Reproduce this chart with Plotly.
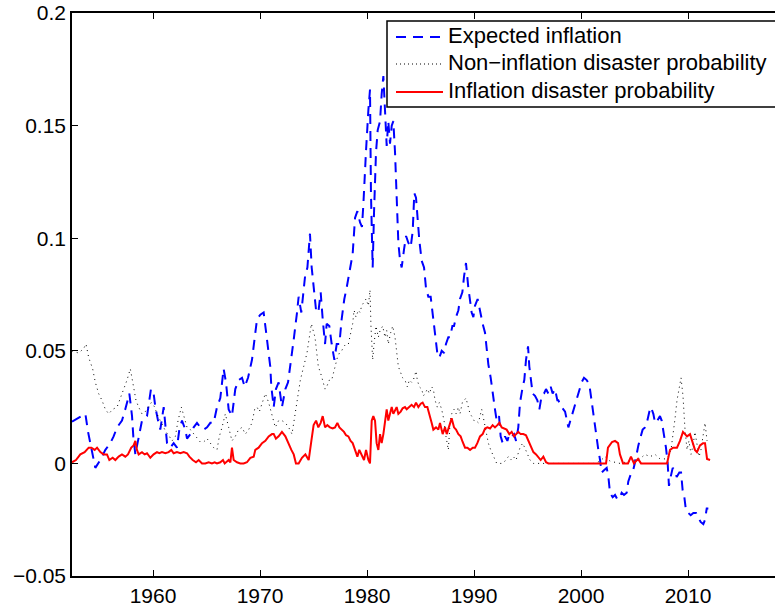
import plotly.graph_objects as go

# ---------------- data ----------------
exp_year = [1952.43, 1953.68, 1953.93, 1954.61, 1955.08, 1955.55, 1956.01, 1956.32, 1956.64, 1957.10,
            1957.41, 1957.79, 1958.04, 1958.16, 1958.35, 1958.66, 1958.97, 1959.44, 1959.81, 1960.06,
            1960.22, 1960.47, 1960.68, 1961.00, 1961.15, 1961.31, 1961.62, 1961.93, 1962.24, 1962.46,
            1962.71, 1963.02, 1963.18, 1963.49, 1963.80, 1964.11, 1964.42, 1964.73, 1965.05, 1965.36,
            1965.67, 1965.98, 1966.29, 1966.60, 1966.82, 1967.07, 1967.38, 1967.69, 1968.00, 1968.32,
            1968.57, 1968.88, 1969.25, 1969.50, 1969.72, 1970.03, 1970.34, 1970.50, 1970.75, 1970.96,
            1971.06, 1971.28, 1971.49, 1971.74, 1972.05, 1972.37, 1972.62, 1972.83, 1973.15, 1973.46,
            1973.61, 1973.86, 1974.21, 1974.43, 1974.67, 1974.83, 1975.05, 1975.24, 1975.45, 1975.67,
            1975.86, 1976.08, 1976.23, 1976.48, 1976.70, 1976.95, 1977.17, 1977.42, 1977.63, 1977.88,
            1978.10, 1978.41, 1978.66, 1978.88, 1979.10, 1979.35, 1979.53, 1979.66, 1979.81, 1979.91,
            1980.13, 1980.28, 1980.37, 1980.53, 1980.66, 1980.84, 1981.00, 1981.22, 1981.37, 1981.53,
            1981.68, 1981.84, 1981.99, 1982.15, 1982.31, 1982.46, 1982.62, 1982.77, 1982.93, 1983.09,
            1983.24, 1983.46, 1983.65, 1983.86, 1984.08, 1984.27, 1984.42, 1984.58, 1984.70, 1984.89,
            1985.11, 1985.33, 1985.51, 1985.73, 1985.95, 1986.20, 1986.36, 1986.57, 1986.76, 1986.98,
            1987.20, 1987.38, 1987.60, 1987.76, 1987.98, 1988.13, 1988.32, 1988.54, 1988.69, 1988.91,
            1989.07, 1989.25, 1989.47, 1989.63, 1989.78, 1989.94, 1990.09, 1990.34, 1990.56, 1990.81,
            1991.03, 1991.18, 1991.34, 1991.56, 1991.74, 1991.96, 1992.12, 1992.34, 1992.49, 1992.68,
            1992.90, 1993.12, 1993.30, 1993.52, 1993.74, 1993.93, 1994.14, 1994.30, 1994.55, 1994.70,
            1994.86, 1995.05, 1995.17, 1995.30, 1995.48, 1995.70, 1995.92, 1996.11, 1996.32, 1996.54,
            1996.73, 1996.95, 1997.17, 1997.35, 1997.57, 1997.79, 1997.88, 1998.19, 1998.51, 1998.82,
            1999.13, 1999.44, 1999.75, 2000.06, 2000.28, 2000.53, 2000.78, 2001.00, 2001.22, 2001.40,
            2001.62, 2001.78, 2001.93, 2002.15, 2002.40, 2002.56, 2002.71, 2002.96, 2003.18, 2003.40,
            2003.65, 2003.80, 2004.02, 2004.27, 2004.42, 2004.64, 2004.83, 2005.05, 2005.20, 2005.36,
            2005.58, 2005.76, 2005.98, 2006.20, 2006.39, 2006.54, 2006.76, 2006.92, 2007.13, 2007.38,
            2007.54, 2007.76, 2007.94, 2008.10, 2008.22, 2008.38, 2008.57, 2008.79, 2008.94, 2009.19,
            2009.35, 2009.50, 2009.66, 2009.81, 2010.03, 2010.25, 2010.50, 2010.75, 2010.97, 2011.18,
            2011.43, 2011.59, 2011.75, 2011.90]
exp_infl = [0.0185, 0.022, 0.014, -0.002, 0.0015, 0.006, 0.009, 0.012, 0.016, 0.019,
            0.024, 0.031, 0.021, 0.012, 0.004, 0.012, 0.019, 0.021, 0.033, 0.031,
            0.025, 0.019, 0.015, 0.025, 0.016, 0.009, 0.007, 0.009, 0.007, 0.015,
            0.019, 0.015, 0.011, 0.013, 0.016, 0.018, 0.016, 0.015, 0.016, 0.018,
            0.018, 0.025, 0.029, 0.042, 0.036, 0.024, 0.021, 0.033, 0.037, 0.038,
            0.034, 0.038, 0.046, 0.056, 0.064, 0.066, 0.067, 0.061, 0.052, 0.043,
            0.034, 0.025, 0.033, 0.036, 0.025, 0.033, 0.036, 0.043, 0.055, 0.067,
            0.074, 0.067, 0.083, 0.087, 0.102, 0.087, 0.078, 0.068, 0.067, 0.076,
            0.064, 0.053, 0.062, 0.061, 0.053, 0.046, 0.053, 0.053, 0.064, 0.073,
            0.078, 0.086, 0.093, 0.109, 0.112, 0.107, 0.105, 0.115, 0.135, 0.139,
            0.157, 0.166, 0.120, 0.087, 0.112, 0.138, 0.148, 0.152, 0.164, 0.172,
            0.157, 0.141, 0.152, 0.142, 0.150, 0.152, 0.138, 0.120, 0.098, 0.090,
            0.087, 0.095, 0.101, 0.098, 0.096, 0.103, 0.120, 0.118, 0.109, 0.099,
            0.090, 0.087, 0.078, 0.074, 0.074, 0.064, 0.058, 0.049, 0.047, 0.050,
            0.049, 0.053, 0.056, 0.056, 0.061, 0.061, 0.065, 0.068, 0.073, 0.076,
            0.083, 0.089, 0.078, 0.071, 0.067, 0.065, 0.070, 0.073, 0.067, 0.062,
            0.058, 0.052, 0.044, 0.038, 0.031, 0.024, 0.019, 0.021, 0.012, 0.009,
            0.012, 0.010, 0.013, 0.012, 0.013, 0.010, 0.016, 0.027, 0.034, 0.037,
            0.046, 0.052, 0.043, 0.037, 0.031, 0.030, 0.028, 0.024, 0.030, 0.031,
            0.033, 0.031, 0.034, 0.031, 0.033, 0.028, 0.028, 0.025, 0.023, 0.016,
            0.021, 0.025, 0.031, 0.036, 0.038, 0.037, 0.035, 0.027, 0.018, 0.012,
            0.006, 0.0015, -0.004, -0.003, -0.002, -0.006, -0.013, -0.015, -0.014, -0.016,
            -0.015, -0.013, -0.014, -0.013, -0.008, -0.005, -0.004, 0.0005, 0.0045, 0.008,
            0.012, 0.015, 0.016, 0.019, 0.023, 0.025, 0.022, 0.018, 0.019, 0.021,
            0.019, 0.013, 0.007, 0.0, -0.010, -0.006, -0.002, -0.003, -0.006, -0.004,
            -0.004, -0.012, -0.015, -0.021, -0.022, -0.023, -0.022, -0.022, -0.024, -0.026,
            -0.027, -0.025, -0.020, -0.020]

non_year = [1952.43, 1953.05, 1953.52, 1953.74, 1953.99, 1954.36, 1954.61, 1954.92, 1955.23, 1955.55,
            1955.86, 1956.23, 1956.64, 1957.04, 1957.26, 1957.57, 1957.88, 1958.04, 1958.19, 1958.41,
            1958.66, 1958.97, 1959.28, 1959.53, 1959.84, 1960.16, 1960.37, 1960.68, 1961.00, 1961.21,
            1961.53, 1961.78, 1962.09, 1962.34, 1962.65, 1962.96, 1963.18, 1963.49, 1963.80, 1964.11,
            1964.42, 1964.73, 1965.05, 1965.36, 1965.67, 1965.98, 1966.20, 1966.45, 1966.76, 1967.07,
            1967.38, 1967.69, 1968.00, 1968.32, 1968.63, 1968.94, 1969.25, 1969.50, 1969.72, 1969.94,
            1970.19, 1970.50, 1970.81, 1971.12, 1971.43, 1971.74, 1972.05, 1972.37, 1972.68, 1972.99,
            1973.24, 1973.46, 1973.77, 1974.08, 1974.39, 1974.61, 1974.80, 1975.14, 1975.30, 1975.45,
            1975.67, 1975.86, 1976.08, 1976.23, 1976.48, 1976.70, 1976.86, 1977.01, 1977.23, 1977.42,
            1977.63, 1977.85, 1978.04, 1978.26, 1978.41, 1978.66, 1978.79, 1978.97, 1979.19, 1979.35,
            1979.50, 1979.66, 1979.91, 1980.13, 1980.28, 1980.37, 1980.53, 1980.66, 1980.84, 1981.06,
            1981.22, 1981.47, 1981.68, 1981.84, 1981.99, 1982.21, 1982.40, 1982.62, 1982.77, 1982.93,
            1983.09, 1983.33, 1983.55, 1983.77, 1983.96, 1984.17, 1984.33, 1984.58, 1984.70, 1984.89,
            1985.11, 1985.27, 1985.42, 1985.64, 1985.83, 1986.04, 1986.20, 1986.36, 1986.57, 1986.76,
            1986.98, 1987.20, 1987.38, 1987.60, 1987.76, 1987.91, 1988.13, 1988.32, 1988.54, 1988.69,
            1988.91, 1989.07, 1989.25, 1989.47, 1989.63, 1989.78, 1990.00, 1990.19, 1990.41, 1990.56,
            1990.72, 1990.93, 1991.12, 1991.34, 1991.56, 1991.74, 1991.96, 1992.12, 1992.37, 1992.59,
            1992.80, 1992.99, 1993.21, 1993.43, 1993.68, 1993.93, 1994.14, 1994.30, 1994.55, 1994.77,
            1994.92, 1995.23, 1995.55, 1998.04, 2001.31, 2001.78, 2002.24, 2002.71, 2003.64, 2004.58,
            2005.51, 2005.98, 2006.45, 2006.92, 2007.38, 2007.85, 2008.13, 2008.41, 2008.60, 2008.79,
            2008.97, 2009.16, 2009.35, 2009.53, 2009.72, 2009.91, 2010.09, 2010.28, 2010.47, 2010.65,
            2010.84, 2011.03, 2011.21, 2011.40, 2011.59, 2011.78]
non_infl = [0.050, 0.049, 0.051, 0.053, 0.047, 0.042, 0.036, 0.031, 0.028, 0.024,
            0.022, 0.024, 0.025, 0.030, 0.033, 0.037, 0.042, 0.038, 0.033, 0.028,
            0.025, 0.022, 0.023, 0.025, 0.027, 0.025, 0.022, 0.019, 0.016, 0.014,
            0.012, 0.010, 0.012, 0.019, 0.025, 0.019, 0.016, 0.015, 0.013, 0.011,
            0.0095, 0.0095, 0.011, 0.009, 0.007, 0.006, 0.012, 0.016, 0.022, 0.016,
            0.010, 0.012, 0.015, 0.016, 0.013, 0.015, 0.018, 0.024, 0.025, 0.023,
            0.027, 0.031, 0.027, 0.021, 0.016, 0.019, 0.019, 0.018, 0.016, 0.013,
            0.021, 0.029, 0.037, 0.043, 0.049, 0.056, 0.062, 0.056, 0.049, 0.043,
            0.040, 0.037, 0.033, 0.034, 0.037, 0.037, 0.040, 0.044, 0.047, 0.049,
            0.050, 0.052, 0.053, 0.053, 0.056, 0.062, 0.068, 0.065, 0.068, 0.067,
            0.070, 0.071, 0.073, 0.070, 0.077, 0.061, 0.046, 0.053, 0.061, 0.056,
            0.059, 0.061, 0.056, 0.059, 0.053, 0.058, 0.061, 0.056, 0.049, 0.043,
            0.041, 0.038, 0.037, 0.034, 0.037, 0.036, 0.037, 0.041, 0.037, 0.034,
            0.033, 0.030, 0.031, 0.033, 0.031, 0.034, 0.033, 0.028, 0.025, 0.027,
            0.024, 0.019, 0.012, 0.006, 0.018, 0.022, 0.024, 0.022, 0.025, 0.022,
            0.027, 0.028, 0.029, 0.025, 0.022, 0.021, 0.019, 0.019, 0.018, 0.021,
            0.024, 0.019, 0.015, 0.009, 0.006, 0.004, 0.0015, 0.0, 0.0, 0.0,
            0.0005, 0.0015, 0.003, 0.0015, 0.003, 0.0015, 0.0045, 0.007, 0.009, 0.007,
            0.005, 0.0015, 0.0, 0.0, 0.0, 0.001, 0.003, 0.001, 0.0, 0.001,
            0.002, 0.004, 0.003, 0.004, 0.002, 0.002, 0.003, 0.006, 0.012, 0.020,
            0.028, 0.034, 0.038, 0.030, 0.015, 0.006, 0.010, 0.004, 0.008, 0.014,
            0.008, 0.003, 0.006, 0.012, 0.018, 0.010]

dis_year = [1952.43, 1952.80, 1953.21, 1953.61, 1953.99, 1954.24, 1954.55, 1954.77, 1955.08, 1955.39,
            1955.70, 1955.92, 1956.23, 1956.48, 1956.79, 1957.10, 1957.41, 1957.66, 1957.97, 1958.19,
            1958.35, 1958.50, 1958.66, 1958.97, 1959.22, 1959.44, 1959.75, 1960.06, 1960.37, 1960.59,
            1960.84, 1961.15, 1961.46, 1961.71, 1961.93, 1962.24, 1962.55, 1962.87, 1963.18, 1963.40,
            1963.71, 1964.02, 1964.27, 1964.58, 1964.89, 1965.20, 1965.51, 1965.76, 1965.98, 1966.29,
            1966.54, 1966.70, 1967.07, 1967.23, 1967.38, 1967.54, 1967.85, 1968.16, 1968.47, 1968.78,
            1969.10, 1969.41, 1969.56, 1969.87, 1970.19, 1970.50, 1970.81, 1971.12, 1971.28, 1971.49,
            1971.74, 1972.05, 1972.37, 1972.62, 1972.93, 1973.15, 1973.36, 1973.61, 1973.92, 1974.24,
            1974.55, 1974.80, 1975.01, 1975.24, 1975.45, 1975.67, 1975.86, 1976.08, 1976.29, 1976.54,
            1976.79, 1977.01, 1977.23, 1977.42, 1977.63, 1977.85, 1978.04, 1978.26, 1978.47, 1978.66,
            1978.88, 1979.10, 1979.28, 1979.50, 1979.72, 1979.91, 1980.13, 1980.28, 1980.44, 1980.59,
            1980.75, 1980.90, 1981.06, 1981.22, 1981.37, 1981.53, 1981.68, 1981.84, 1981.99, 1982.15,
            1982.31, 1982.46, 1982.62, 1982.77, 1982.93, 1983.15, 1983.33, 1983.55, 1983.71, 1983.96,
            1984.17, 1984.39, 1984.58, 1984.80, 1985.02, 1985.20, 1985.42, 1985.64, 1985.83, 1986.04,
            1986.20, 1986.45, 1986.67, 1986.82, 1987.07, 1987.29, 1987.45, 1987.60, 1987.76, 1987.91,
            1988.13, 1988.32, 1988.54, 1988.75, 1988.94, 1989.16, 1989.38, 1989.63, 1989.88, 1990.09,
            1990.31, 1990.56, 1990.81, 1991.03, 1991.25, 1991.50, 1991.74, 1991.96, 1992.18, 1992.37,
            1992.59, 1992.80, 1993.05, 1993.30, 1993.52, 1993.74, 1993.93, 1994.14, 1994.36, 1994.61,
            1994.86, 1995.08, 1995.30, 1995.55, 1995.80, 1996.01, 1996.23, 1996.48, 1996.73, 1996.95,
            2002.34, 2002.52, 2002.90, 2003.18, 2003.46, 2003.64, 2003.93, 2004.39, 2004.67, 2004.95,
            2005.33, 2005.61, 2008.04, 2008.32, 2008.60, 2008.97, 2009.25, 2009.53, 2009.91, 2010.19,
            2010.37, 2010.65, 2010.84, 2011.12, 2011.40, 2011.59, 2011.78, 2012.06]
dis_prob = [0.0005, 0.0015, 0.004, 0.005, 0.007, 0.007, 0.006, 0.007, 0.005, 0.004,
            0.004, 0.0015, 0.0025, 0.0015, 0.003, 0.004, 0.003, 0.004, 0.007, 0.008,
            0.010, 0.006, 0.004, 0.005, 0.004, 0.0045, 0.0025, 0.004, 0.005, 0.0045,
            0.005, 0.0045, 0.005, 0.006, 0.0045, 0.005, 0.0045, 0.005, 0.0045, 0.003,
            0.0015, 0.0005, 0.0015, 0.0, 0.0, 0.0005, 0.0, 0.0005, 0.0, 0.0005,
            0.0015, 0.0, 0.0015, 0.0005, 0.007, 0.0015, 0.0005, 0.0, 0.0, 0.0005,
            0.0025, 0.003, 0.006, 0.007, 0.009, 0.010, 0.012, 0.013, 0.013, 0.011,
            0.012, 0.014, 0.012, 0.009, 0.006, 0.004, 0.0, 0.0, 0.0025, 0.004,
            0.0015, 0.010, 0.017, 0.019, 0.016, 0.018, 0.021, 0.016, 0.017, 0.016,
            0.0155, 0.016, 0.018, 0.016, 0.015, 0.014, 0.0125, 0.012, 0.010, 0.009,
            0.006, 0.003, 0.006, 0.004, 0.0015, 0.006, 0.0015, 0.0, 0.019, 0.021,
            0.019, 0.009, 0.006, 0.013, 0.009, 0.013, 0.018, 0.024, 0.019, 0.022,
            0.025, 0.022, 0.024, 0.025, 0.022, 0.023, 0.0245, 0.025, 0.024, 0.025,
            0.026, 0.025, 0.027, 0.025, 0.0265, 0.027, 0.025, 0.025, 0.022, 0.018,
            0.015, 0.016, 0.015, 0.018, 0.013, 0.016, 0.013, 0.015, 0.018, 0.020,
            0.016, 0.015, 0.013, 0.012, 0.0095, 0.007, 0.007, 0.006, 0.007, 0.007,
            0.009, 0.012, 0.013, 0.0155, 0.016, 0.0155, 0.017, 0.016, 0.017, 0.018,
            0.016, 0.0155, 0.015, 0.013, 0.014, 0.012, 0.013, 0.014, 0.013, 0.013,
            0.0125, 0.010, 0.007, 0.005, 0.004, 0.0025, 0.0015, 0.003, 0.0005, 0.0,
            0.0, 0.007, 0.0095, 0.010, 0.009, 0.004, 0.0, 0.0, 0.003, 0.0,
            0.002, 0.0, 0.0, 0.006, 0.007, 0.007, 0.010, 0.014, 0.012, 0.013,
            0.010, 0.006, 0.005, 0.008, 0.009, 0.009, 0.002, 0.0015]

x_ticks = [1960, 1970, 1980, 1990, 2000, 2010]
y_ticks = [-0.05, 0, 0.05, 0.1, 0.15, 0.2]
y_tick_text = ["\u22120.05", "0", "0.05", "0.1", "0.15", "0.2"]
names = ["Expected inflation", "Non\u2212inflation disaster probability", "Inflation disaster probability"]
colors = ["#0000ff", "#000000", "#ff0000"]
widths = [2, 1, 2]
dashes = ["10px,7px", "1px,4px", "solid"]

# ---------------- figure ----------------
FONT = "Liberation Sans, Arial, Helvetica, sans-serif"
fig = go.Figure()
for xs, ys, nm, c, w, d in zip([exp_year, non_year, dis_year], [exp_infl, non_infl, dis_prob],
                               names, colors, widths, dashes):
    fig.add_trace(go.Scatter(x=xs, y=ys, mode="lines", name=nm, showlegend=False,
                             line=dict(color=c, width=w, dash=d)))

# legend drawn in the corner (box runs off the right edge like the original)
PL, PW, PB, PH = 72, 703, 576, 563  # plot area in px
def px(xp):
    return (xp - PL) / PW
def py(yp):
    return (PB - yp) / PH

fig.add_shape(type="rect", xref="paper", yref="paper", x0=px(387), x1=px(790), y0=py(107), y1=py(21),
              line=dict(color="black", width=1.5), fillcolor="white", layer="above")
row_y = [37, 64, 92]
for nm, c, w, d, ry in zip(names, colors, widths, dashes, row_y):
    fig.add_shape(type="line", xref="paper", yref="paper", x0=px(396), x1=px(443), y0=py(ry), y1=py(ry),
                  line=dict(color=c, width=w, dash=d if d != "1px,4px" else "1px,3px"), layer="above")
    fig.add_annotation(text=nm, xref="paper", yref="paper", x=px(446), y=py(ry - 1.5),
                       xanchor="left", yanchor="middle", showarrow=False,
                       font=dict(family=FONT, size=22, color="black"))

fig.update_layout(
    width=775, height=609,
    margin=dict(l=72, r=0, t=13, b=33),
    paper_bgcolor="white", plot_bgcolor="white",
    font=dict(family=FONT, size=21, color="black"),
    showlegend=False,
)
fig.update_xaxes(range=[1952.43, 2018.13], tickvals=x_ticks, ticks="inside", ticklen=6,
                 tickwidth=1, tickcolor="black", showline=True, linecolor="black", linewidth=1.5,
                 mirror="ticks", showgrid=False, zeroline=False,
                 tickfont=dict(family=FONT, size=21, color="black"))
fig.update_yaxes(range=[-0.05, 0.2], tickvals=y_ticks, ticktext=y_tick_text, ticks="inside",
                 ticklen=6, tickwidth=1, tickcolor="black", showline=True, linecolor="black",
                 linewidth=1.5, mirror=False, showgrid=False, zeroline=False,
                 tickfont=dict(family=FONT, size=21, color="black"))

fig.write_html("out.html")
